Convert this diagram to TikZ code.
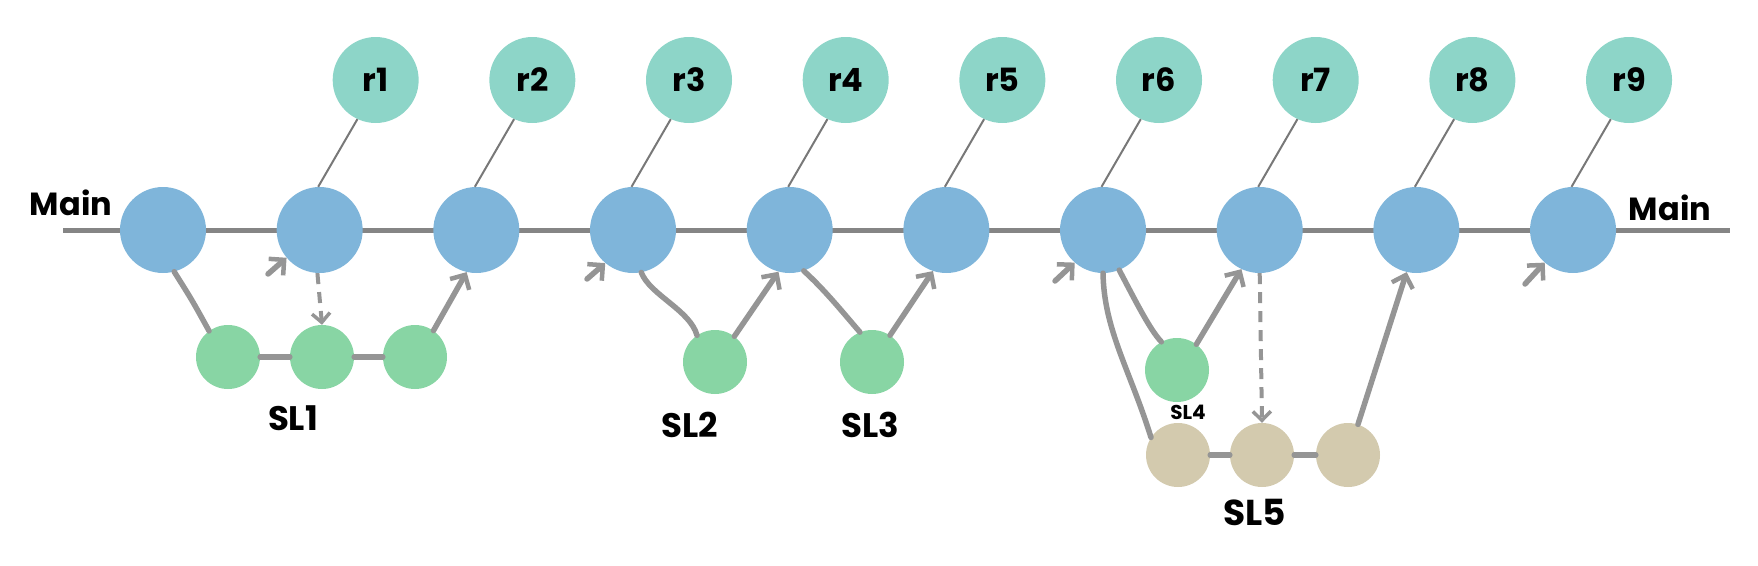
\documentclass[tikz,border=0pt]{standalone}
\usepackage{fontspec}
\setmainfont{Poppins}
\usetikzlibrary{arrows.meta}
\definecolor{mainblue}{HTML}{7FB5DA}
\definecolor{relteal}{HTML}{8DD5C8}
\definecolor{slgreen}{HTML}{88D5A4}
\definecolor{slbeige}{HTML}{D3CAAE}
\definecolor{linegray}{HTML}{959595}
\definecolor{maingray}{HTML}{858585}
\tikzset{
  commit/.style={circle, fill=mainblue, minimum size=86pt, inner sep=0pt},
  rel/.style={circle, fill=relteal, minimum size=86pt, inner sep=0pt, font=\fontsize{32}{32}\selectfont\bfseries},
  sl/.style={circle, fill=slgreen, minimum size=64pt, inner sep=0pt},
  slb/.style={circle, fill=slbeige, minimum size=64pt, inner sep=0pt},
  lbl/.style={font=\fontsize{32}{32}\selectfont\bfseries, inner sep=0pt},
  tag/.style={draw=maingray!90!black, line width=2pt},
  conn/.style={draw=linegray, line width=5.5pt, line cap=round, line join=round},
  arr/.style={conn, -{Straight Barb[length=11pt,width=22pt,line width=4.5pt]}},
  darr/.style={draw=linegray, line width=4pt, dash pattern=on 11pt off 8pt, -{Straight Barb[length=9pt,width=18pt,line width=3.5pt]}}
}
\begin{document}
\begin{tikzpicture}[x=1pt,y=-1pt]
\useasboundingbox (0,0) rectangle (1758,565);
\coordinate (mL) at (63,230);
\coordinate (mR) at (1730,230);
\draw[draw=maingray, line width=5pt] (mL) -- (mR);
% main commits
\foreach \i in {1,...,10}{
  \node[commit] (b\i) at ({163+156.67*(\i-1)},230) {};
}
% releases
\foreach \i/\j in {1/2,2/3,3/4,4/5,5/6,6/7,7/8,8/9,9/10}{
  \node[rel] (t\i) at ({219+156.67*(\j-2)+156.67},80) {r\i};
  \draw[tag] (t\i.-115) -- (b\j.92);
}
% labels
\node[lbl] (mainL) at (71,203) {Main};
\node[lbl] (mainR) at (1670,208) {Main};
% SL1
\node[sl] (g1) at (228,357) {};
\node[sl] (g2) at (322,357) {};
\node[sl] (g3) at (415,357) {};
\node[lbl, font=\fontsize{34}{34}\selectfont\bfseries] (sl1) at (293,418) {SL1};
% SL2, SL3
\node[sl] (s2) at (715,362) {};
\node[sl] (s3) at (872,362) {};
\node[lbl, font=\fontsize{34}{34}\selectfont\bfseries] (sl2) at (690,425) {SL2};
\node[lbl, font=\fontsize{34}{34}\selectfont\bfseries] (sl3) at (870,425) {SL3};
% SL4
\node[sl] (s4) at (1177,370) {};
\node[lbl, font=\fontsize{20}{20}\selectfont\bfseries] (sl4) at (1188,412) {SL4};
% SL5
\node[slb] (e1) at (1178,455) {};
\node[slb] (e2) at (1262,455) {};
\node[slb] (e3) at (1348,455) {};
\node[lbl, font=\fontsize{36}{36}\selectfont\bfseries] (sl5) at (1255,512) {SL5};
% free arrow tails
\coordinate (c2) at (268,274);
\coordinate (c4) at (587,279);
\coordinate (c7) at (1055,281);
\coordinate (c10) at (1525,284);
\draw[arr] (c2) -- (b2.-140);
\draw[arr] (c4) -- (b4.-130);
\draw[arr] (c7) -- (b7.-131);
\draw[arr] (c10) -- (b10.-131);
% SL1 connectors
\draw[conn] (b1.-75) .. controls (192,300) .. (g1.126);
\draw[conn] (g1.east) -- (g2.west);
\draw[conn] (g2.east) -- (g3.west);
\draw[darr] (b2.-93) -- (g2.90);
\draw[arr] (g3.55) -- (b3.-103);
% SL2, SL3
\draw[conn] (b4.-79) .. controls (650,295) and (690,310) .. (s2.124);
\draw[arr] (s2.53) -- (b5.-105);
\draw[conn] (b5.-71) .. controls (825,290) and (845,315) .. (s3.112);
\draw[arr] (s3.56) -- (b6.-108);
% SL4, SL5
\draw[conn] (b7.-90) .. controls (1104,330) and (1130,370) .. (e1.147);
\draw[conn] (b7.-68) .. controls (1135,300) and (1150,330) .. (s4.119);
\draw[arr] (s4.53) -- (b8.-115);
\draw[darr] (b8.-90) -- (e2.90);
\draw[conn] (e1.east) -- (e2.west);
\draw[conn] (e2.east) -- (e3.west);
\draw[arr] (e3.72) -- (b9.-103);
\end{tikzpicture}
\end{document}
